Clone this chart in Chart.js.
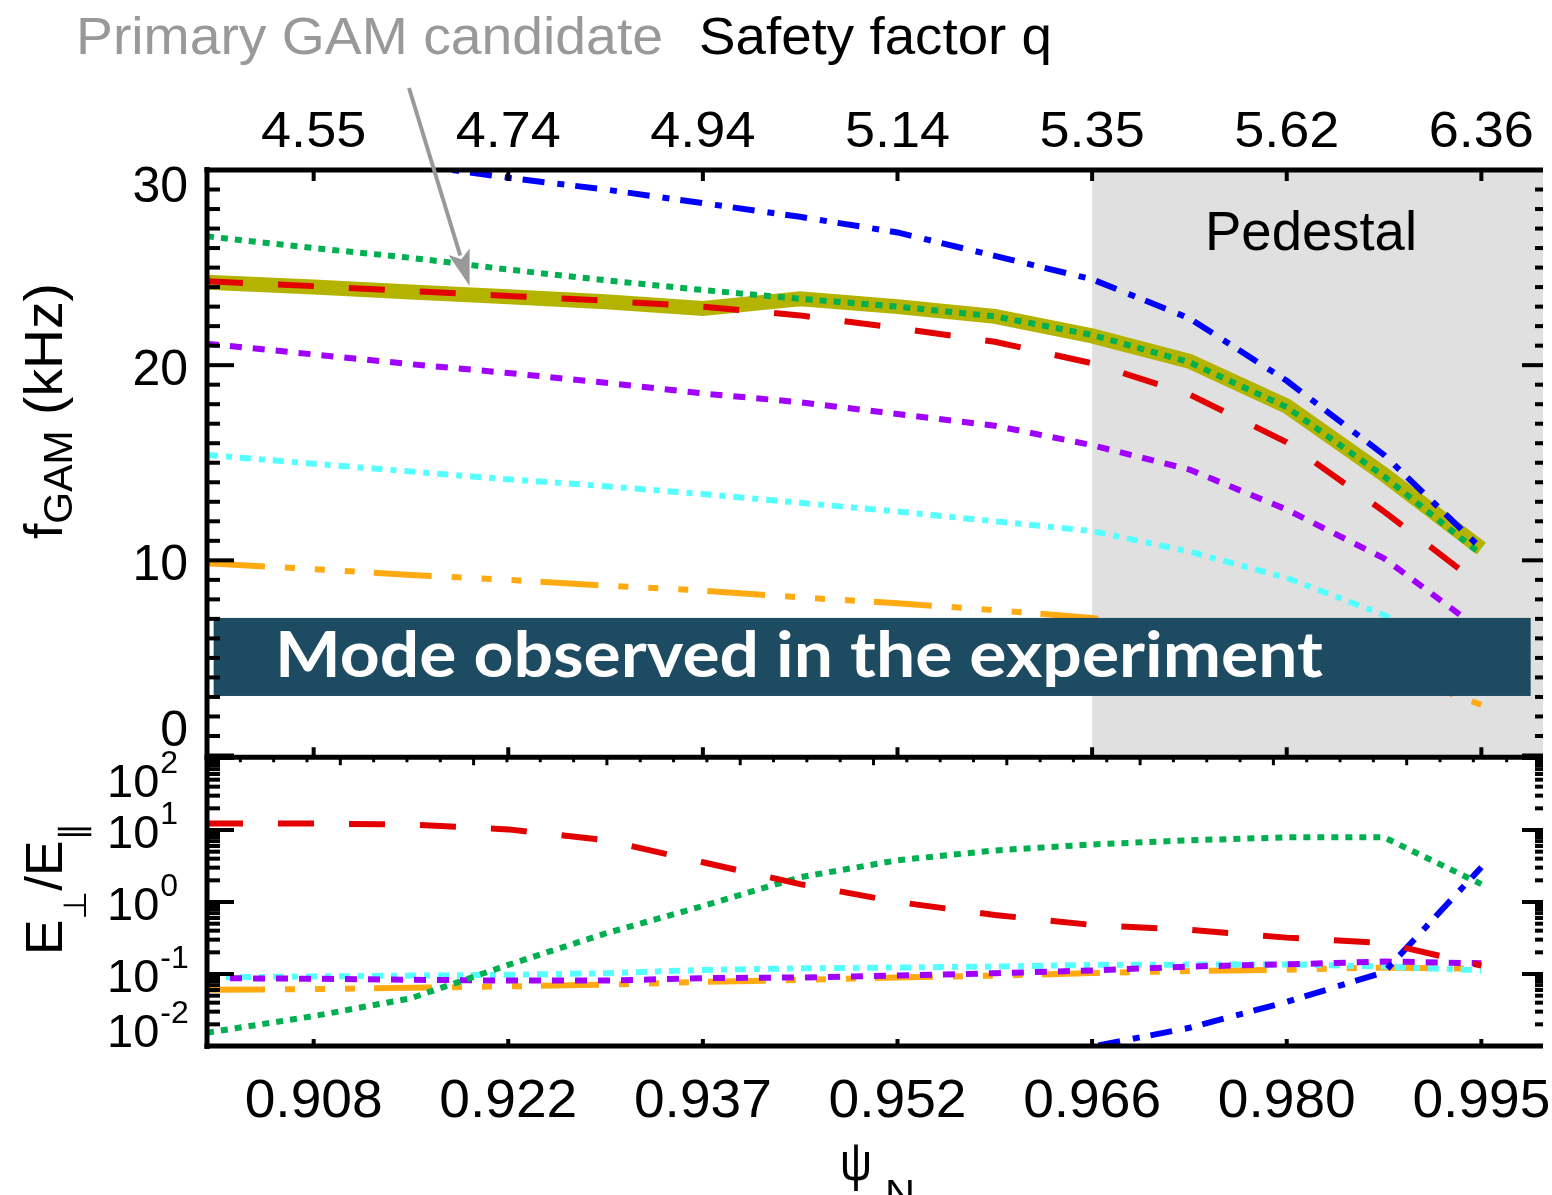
<!DOCTYPE html>
<html>
<head>
<meta charset="utf-8">
<title>GAM frequency and polarisation vs psi_N</title>
<script src="https://cdn.jsdelivr.net/npm/chart.js@4.4.1/dist/chart.umd.min.js"></script>
<style>
  html, body { margin: 0; padding: 0; background: #ffffff; }
  #chart { display: block; }
</style>
</head>
<body>
<canvas id="chart" width="1552" height="1195"></canvas>
<script>
// radial grid (psi_N)
const psiN = [0.9000, 0.9080, 0.9153, 0.9226, 0.9299, 0.9372, 0.9445, 0.9518, 0.9591, 0.9664, 0.9737, 0.9810, 0.9883, 0.9956];

// GAM frequency in kHz (top panel)
const fBlue      = [31.5, 30.9, 30.3, 29.6, 29.0, 28.3, 27.6, 26.8, 25.6, 24.4, 22.4, 19.2, 15.4, 10.6];
const fGreen     = [26.6, 26.0, 25.5, 24.9, 24.35, 23.85, 23.4, 23.0, 22.5, 21.55, 20.15, 17.85, 14.3, 10.3];
const fRed       = [24.3, 24.05, 23.8, 23.55, 23.3, 23.0, 22.55, 21.9, 21.2, 20.1, 18.5, 16.05, 12.5, 8.7];
const fPurple    = [21.1, 20.55, 20.05, 19.6, 19.1, 18.55, 18.1, 17.5, 16.9, 15.9, 14.65, 12.6, 10.1, 6.4];
const fCyan      = [15.4, 14.95, 14.55, 14.15, 13.8, 13.4, 12.95, 12.5, 12.0, 11.5, 10.45, 9.1, 7.2, 4.5];
const fOrange    = [9.85, 9.55, 9.25, 9.0, 8.7, 8.45, 8.1, 7.8, 7.45, 7.05, 6.4, 5.6, 4.4, 2.6];
const fCandidate = [24.25, 24.0, 23.75, 23.5, 23.25, 22.9, 23.4, 23.0, 22.5, 21.5, 20.2, 17.9, 14.4, 10.6];

// E_perp / E_par (bottom panel, log)
const rRed    = [12.3, 12.3, 11.9, 10.2, 7.2, 3.56, 1.77, 1.0, 0.66, 0.48, 0.41, 0.32, 0.27, 0.131];
const rGreen  = [0.0153, 0.026, 0.046, 0.134, 0.366, 0.88, 2.21, 3.8, 5.2, 6.3, 7.2, 7.9, 7.9, 1.77];
const rBlue   = [null, null, null, null, null, null, null, null, 0.005, 0.0098, 0.0179, 0.041, 0.106, 3.04];
const rPurple = [0.0875, 0.086, 0.083, 0.081, 0.081, 0.0875, 0.0895, 0.095, 0.1025, 0.112, 0.127, 0.136, 0.149, 0.141];
const rCyan   = [0.0895, 0.0925, 0.095, 0.0975, 0.1025, 0.114, 0.12, 0.123, 0.127, 0.134, 0.135, 0.136, 0.127, 0.112];
const rOrange = [0.0605, 0.0617, 0.0645, 0.0673, 0.071, 0.0776, 0.0827, 0.0895, 0.095, 0.103, 0.11, 0.115, 0.123, 0.118];

// axes
const psiTicks      = [0.9080, 0.9226, 0.9372, 0.9518, 0.9664, 0.9810, 0.9956];
const psiTickLabels = ['0.908', '0.922', '0.937', '0.952', '0.966', '0.980', '0.995'];
const qTickLabels   = ['4.55', '4.74', '4.94', '5.14', '5.35', '5.62', '6.36'];
const fTicks        = [0, 10, 20, 30];
const ratioTicks    = [0.01, 0.1, 1, 10, 100];
const ratioExps     = ['-2', '-1', '0', '1', '2'];

// annotations
const pedestalFrom = 0.9664;
const modeBand = { psiFrom: 0.9005, psiTo: 0.9993, fLow: 3.05, fHigh: 7.05 };
const arrowTip = { psi: 0.9197, f: 24.05 };

// layout (pixels)
const AREA_TOP = 170, AREA_BOTTOM = 1046;
const TOP_PANEL_PX = 585.5;   // 0..30 kHz
const DECADE_PX = 72;         // lower panel, per decade
const areaH = AREA_BOTTOM - AREA_TOP;

const FONT = '"Liberation Sans", Arial, Helvetica, sans-serif';
const SYM_FONT = '"Liberation Sans", "DejaVu Sans", sans-serif';

function series(vals, axis, color, width, dash) {
  return {
    data: psiN.map((x, i) => ({ x: x, y: vals[i] })),
    yAxisID: axis,
    borderColor: color,
    borderWidth: width,
    borderDash: dash,
    borderCapStyle: 'butt',
    borderJoinStyle: 'miter',
    pointRadius: 0,
    fill: false,
    tension: 0,
    spanGaps: false
  };
}

const BLUE = '#0000ff', GREEN = '#00b050', RED = '#e30000', PURPLE = '#a000ff',
      CYAN = '#55ffff', ORANGE = '#ffaa11', OLIVE = '#b4b400';
const dBlue = [22, 13, 7, 11], dGreen = [7, 7], dRed = [36, 35], dPurple = [12, 11],
      dCyan = [11, 8, 6, 8], dOrange = [58, 20, 10, 20, 10, 20, 10, 19];

function drawText(ctx, s, x, y, font, color, opts) {
  opts = opts || {};
  ctx.save();
  ctx.font = font;
  ctx.fillStyle = color;
  ctx.textBaseline = 'alphabetic';
  ctx.textAlign = 'left';
  const mw = ctx.measureText(s).width;
  const sx = opts.width ? opts.width / mw : (opts.sx || 1);
  const w = mw * sx;
  let x0 = x;
  if (opts.align === 'center') x0 = x - w / 2;
  else if (opts.align === 'right') x0 = x - w;
  ctx.translate(x0, y);
  ctx.scale(sx, 1);
  ctx.fillText(s, 0, 0);
  ctx.restore();
  return w;
}

// rotated axis title made of pieces (main text + subscripts)
function drawRotated(ctx, pieces, x, yBottom, totalLen) {
  ctx.save();
  ctx.translate(x, yBottom);
  ctx.rotate(-Math.PI / 2);
  ctx.fillStyle = '#000';
  ctx.textBaseline = 'alphabetic';
  ctx.textAlign = 'left';
  const widths = pieces.map(p => { ctx.font = p.size + 'px ' + SYM_FONT; return ctx.measureText(p.t).width; });
  const sum = widths.reduce((a, b) => a + b, 0);
  ctx.scale(totalLen / sum, 1);
  let cx = 0;
  pieces.forEach((p, i) => {
    ctx.font = p.size + 'px ' + SYM_FONT;
    ctx.fillText(p.t, cx, p.dy || 0);
    cx += widths[i];
  });
  ctx.restore();
}

function seg(ctx, x1, y1, x2, y2, w) {
  ctx.lineWidth = w;
  ctx.beginPath();
  ctx.moveTo(x1, y1);
  ctx.lineTo(x2, y2);
  ctx.stroke();
}

const decor = {
  id: 'decor',
  beforeDatasetsDraw(chart) {
    const ctx = chart.ctx, xs = chart.scales.x, yt = chart.scales.yTop;
    const x0 = xs.getPixelForValue(pedestalFrom);
    const y0 = yt.getPixelForValue(30), y1 = yt.getPixelForValue(0);
    ctx.save();
    ctx.fillStyle = '#e0e0e0';
    ctx.fillRect(x0, y0, xs.right + 3 - x0, y1 - y0 + 2);
    ctx.restore();
    drawText(ctx, 'Pedestal', 1205, 250, '55px ' + FONT, '#000', { width: 212 });
  },
  afterDatasetsDraw(chart) {
    const ctx = chart.ctx, xs = chart.scales.x, yt = chart.scales.yTop;
    const bx0 = xs.getPixelForValue(modeBand.psiFrom), bx1 = xs.getPixelForValue(modeBand.psiTo);
    const by0 = yt.getPixelForValue(modeBand.fHigh), by1 = yt.getPixelForValue(modeBand.fLow);
    ctx.save();
    ctx.fillStyle = '#1d4b62';
    ctx.fillRect(bx0, by0, bx1 - bx0, by1 - by0);
    ctx.restore();
    drawText(ctx, 'Mode observed in the experiment', 275, by1 - 19,
      'bold 64px Lato, "Open Sans", sans-serif', '#ffffff', { width: 1048 });
  },
  afterDraw(chart) {
    const ctx = chart.ctx, xs = chart.scales.x, yt = chart.scales.yTop, yl = chart.scales.yLow;
    const L = xs.left, RE = xs.right + 3, T = yt.getPixelForValue(30), B = yl.getPixelForValue(0.01);
    const topBottom = yt.getPixelForValue(0), lowTop = yl.getPixelForValue(100);
    const mid = (topBottom + lowTop) / 2 + 0.5;
    ctx.save();
    ctx.strokeStyle = '#000';
    ctx.lineCap = 'butt';

    // frame (right edge is cut off in the original)
    seg(ctx, L, T - 3, L, B + 3, 5);
    seg(ctx, L - 2.5, T, RE, T, 5);
    seg(ctx, L - 2.5, mid, RE, mid, 5);
    seg(ctx, L - 2.5, B, RE, B, 5);

    // top panel y ticks
    for (let v = 0; v <= 30; v++) {
      const py = yt.getPixelForValue(v), major = v % 10 === 0;
      seg(ctx, L, py, L + (major ? 27 : 13), py, 4);
      seg(ctx, RE, py, RE - (major ? 21 : 8), py, 4);
    }
    // lower panel log ticks
    for (let e = -2; e <= 2; e++) {
      for (let m = 1; m <= 9; m++) {
        if (e === 2 && m > 1) break;
        const v = m * Math.pow(10, e), py = yl.getPixelForValue(v), major = m === 1;
        seg(ctx, L, py, L + (major ? 27 : 13), py, 4);
        seg(ctx, RE, py, RE - (major ? 21 : 8), py, 4);
      }
    }
    // x ticks
    psiTicks.forEach(v => {
      const px = xs.getPixelForValue(v);
      seg(ctx, px, T, px, T + 11, 4);
      seg(ctx, px, mid, px, mid - 10, 4);
      seg(ctx, px, B, px, B - 7, 4);
    });
    for (let i = 1; i < 40; i++) {
      const px = xs.getPixelForValue(0.9 + i * 0.0025);
      seg(ctx, px, mid, px, mid + (i % 4 === 0 ? 8 : 5), 3);
    }
    ctx.restore();

    // tick labels
    fTicks.forEach(v => {
      const py = yt.getPixelForValue(v);
      const base = Math.min(Math.max(py + 20, T + 32), topBottom - 9.5);
      drawText(ctx, String(v), 188, base, '50px ' + FONT, '#000', { align: 'right' });
    });
    ratioTicks.forEach((v, i) => {
      const py = yl.getPixelForValue(v);
      const base = Math.min(Math.max(py + 18, lowTop + 39), B + 1);
      const w = drawText(ctx, '10', 107, base, '47px ' + FONT, '#000');
      drawText(ctx, ratioExps[i], 107 + w + 1, base - 24, '32px ' + FONT, '#000');
    });
    psiTicks.forEach((v, i) => {
      const px = xs.getPixelForValue(v);
      drawText(ctx, psiTickLabels[i], px, 1117, '53px ' + FONT, '#000', { align: 'center', sx: 1.04 });
      drawText(ctx, qTickLabels[i], px, 147, '50px ' + FONT, '#000', { align: 'center', sx: 1.08 });
    });

    // axis titles
    drawRotated(ctx, [
      { t: 'f', size: 54 },
      { t: 'GAM', size: 40, dy: 10 },
      { t: ' (kHz)', size: 54 }
    ], 62, 539, 256);
    drawRotated(ctx, [
      { t: 'E', size: 52 },
      { t: '\u22A5', size: 32, dy: 24 },
      { t: '/E', size: 52 },
      { t: '\u2225', size: 34, dy: 22 }
    ], 62, 955, 132);
    drawText(ctx, '\u03C8', 840, 1180, '54px ' + SYM_FONT, '#000', { width: 32 });
    drawText(ctx, 'N', 885, 1206, '36px ' + FONT, '#000', { width: 30 });

    // header
    drawText(ctx, 'Primary GAM candidate', 76, 54, '51px ' + FONT, '#999999', { width: 587 });
    drawText(ctx, 'Safety factor q', 699, 54, '51px ' + FONT, '#000', { width: 353 });

    // arrow to the candidate mode
    const tx = xs.getPixelForValue(arrowTip.psi), ty = yt.getPixelForValue(arrowTip.f);
    const sx0 = 409, sy0 = 88;
    const dx = tx - sx0, dy = ty - sy0, len = Math.hypot(dx, dy);
    const ux = dx / len, uy = dy / len, px = -uy, py = ux;
    const headL = 36, headW = 11;
    const bx = tx - ux * headL, by = ty - uy * headL;
    ctx.save();
    ctx.strokeStyle = '#999999';
    ctx.fillStyle = '#999999';
    seg(ctx, sx0, sy0, bx + ux * 4, by + uy * 4, 4);
    ctx.beginPath();
    ctx.moveTo(tx, ty);
    ctx.lineTo(bx + px * headW, by + py * headW);
    ctx.lineTo(tx - ux * (headL - 8), ty - uy * (headL - 8));
    ctx.lineTo(bx - px * headW, by - py * headW);
    ctx.closePath();
    ctx.fill();
    ctx.restore();
  }
};

new Chart(document.getElementById('chart'), {
  type: 'line',
  data: {
    datasets: [
      series(fBlue, 'yTop', BLUE, 6, dBlue),
      series(fGreen, 'yTop', GREEN, 6, dGreen),
      series(fRed, 'yTop', RED, 6, dRed),
      series(fPurple, 'yTop', PURPLE, 6, dPurple),
      series(fCyan, 'yTop', CYAN, 6, dCyan),
      series(fOrange, 'yTop', ORANGE, 6, dOrange),
      series(fCandidate, 'yTop', OLIVE, 15, []),
      series(rRed, 'yLow', RED, 6, dRed),
      series(rGreen, 'yLow', GREEN, 6, dGreen),
      series(rBlue, 'yLow', BLUE, 6, dBlue),
      series(rPurple, 'yLow', PURPLE, 6, dPurple),
      series(rCyan, 'yLow', CYAN, 6, dCyan),
      series(rOrange, 'yLow', ORANGE, 6, dOrange)
    ]
  },
  options: {
    responsive: false,
    devicePixelRatio: 1,
    animation: false,
    events: [],
    layout: { padding: { left: 207, right: 12, top: AREA_TOP, bottom: 1195 - AREA_BOTTOM } },
    plugins: { legend: { display: false }, tooltip: { enabled: false } },
    scales: {
      x: { type: 'linear', min: 0.9, max: 1.0, bounds: 'data', display: false },
      yTop: {
        type: 'linear', position: 'left', display: false, bounds: 'data',
        max: 30, min: 30 - 30 * areaH / TOP_PANEL_PX
      },
      yLow: {
        type: 'logarithmic', position: 'left', display: false, bounds: 'data',
        min: 0.01, max: Math.pow(10, -2 + areaH / DECADE_PX)
      }
    }
  },
  plugins: [decor]
});
</script>
</body>
</html>
